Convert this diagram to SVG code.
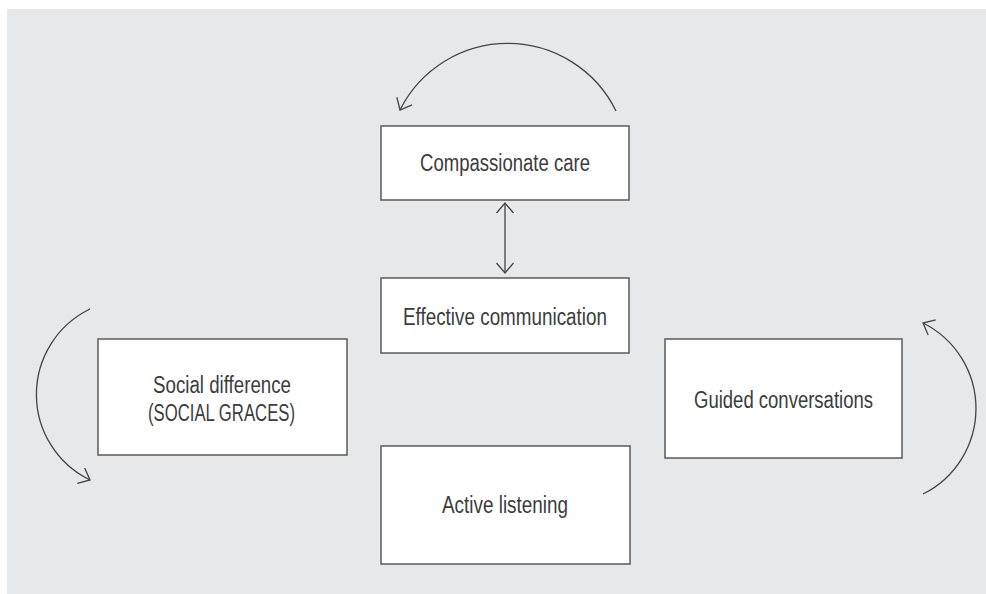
<svg xmlns="http://www.w3.org/2000/svg" width="986" height="594" viewBox="0 0 986 594">
<style>
.node rect{fill:#ffffff;stroke:#5a5a5a;stroke-width:1.5}
.node text{font-family:"Liberation Sans Narrow","Liberation Sans",Arial,sans-serif;font-size:23px;fill:#3c3c3c;text-anchor:middle}
.conn{fill:none;stroke:#444444;stroke-width:1.3}
</style>
<defs>
<marker id="chev" markerUnits="userSpaceOnUse" markerWidth="30" markerHeight="30" viewBox="-15 -15 30 30" refX="0" refY="0" orient="auto-start-reverse">
<path d="M-10,-8.5 L0,0 L-10,8.5" fill="none" stroke="#444444" stroke-width="1.3"/>
</marker>
</defs>
<rect x="7" y="9" width="979" height="585" fill="#e7e8ea"/>
<g id="connectors">
<path class="conn" d="M616,111 A120.5,120.5 0 0 0 400,110" marker-end="url(#chev)"/>
<path class="conn" d="M505,203 L505,273" marker-start="url(#chev)" marker-end="url(#chev)"/>
<path class="conn" d="M90,309 A95,95 0 0 0 90,480" marker-end="url(#chev)"/>
<path class="conn" d="M923,494 A95.5,95.5 0 0 0 923,323" marker-end="url(#chev)"/>
</g>
<g id="compassionate-care" class="node">
<rect x="381" y="126" width="248" height="74"/>
<text x="505" y="171" textLength="170" lengthAdjust="spacingAndGlyphs">Compassionate care</text>
</g>
<g id="effective-communication" class="node">
<rect x="381" y="278" width="248" height="75"/>
<text x="505" y="325" textLength="204" lengthAdjust="spacingAndGlyphs">Effective communication</text>
</g>
<g id="social-difference" class="node">
<rect x="98" y="339" width="249" height="116"/>
<text x="222" y="393" textLength="138" lengthAdjust="spacingAndGlyphs">Social difference</text>
<text x="221.5" y="421" textLength="147" lengthAdjust="spacingAndGlyphs">(SOCIAL GRACES)</text>
</g>
<g id="guided-conversations" class="node">
<rect x="665" y="339" width="237" height="119"/>
<text x="783.5" y="408" textLength="179" lengthAdjust="spacingAndGlyphs">Guided conversations</text>
</g>
<g id="active-listening" class="node">
<rect x="381" y="446" width="249" height="118"/>
<text x="505" y="513" textLength="126" lengthAdjust="spacingAndGlyphs">Active listening</text>
</g>
</svg>
